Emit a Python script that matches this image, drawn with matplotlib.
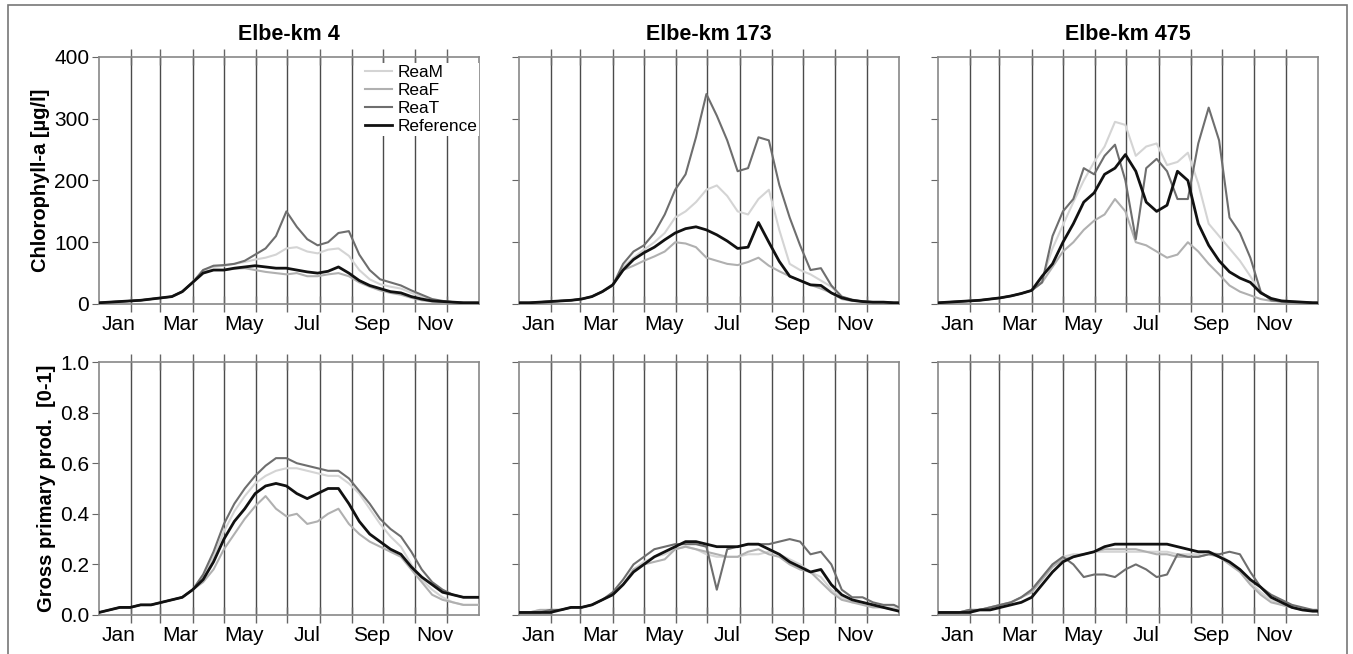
import matplotlib
matplotlib.use("Agg")
import matplotlib.pyplot as plt
from matplotlib.patches import Rectangle

plt.rcParams['font.family'] = ['Liberation Sans', 'DejaVu Sans']

days = [0, 10, 20, 30, 40, 50, 60, 70, 80, 90, 100, 110, 120, 130, 140, 150, 160, 170, 180,
        190, 200, 210, 220, 230, 240, 250, 260, 270, 280, 290, 300, 310, 320, 330, 340, 350, 360, 365]

month_starts = [0, 31, 59, 90, 120, 151, 181, 212, 243, 273, 304, 334, 365]
month_labels = ["Jan", "Mar", "May", "Jul", "Sep", "Nov"]

titles = ["Elbe-km 4", "Elbe-km 173", "Elbe-km 475"]
series_names = ["ReaM", "ReaF", "ReaT", "Reference"]

# Chlorophyll-a [ug/l]
chl_km4_ream = [2, 3, 4, 5, 6, 8, 10, 12, 20, 35, 55, 60, 62, 65, 68, 72, 75, 80, 90, 92, 85, 82, 88, 90, 78, 55, 40, 32, 28, 25, 18, 12, 6, 4, 3, 2, 2, 2]
chl_km4_reaf = [2, 3, 4, 5, 6, 8, 10, 12, 20, 35, 52, 55, 55, 57, 58, 55, 52, 50, 48, 50, 45, 45, 48, 50, 45, 35, 28, 22, 18, 15, 10, 6, 4, 3, 2, 2, 2, 2]
chl_km4_reat = [2, 3, 4, 5, 6, 8, 10, 12, 20, 35, 55, 62, 63, 65, 70, 80, 90, 110, 150, 125, 105, 95, 100, 115, 118, 80, 55, 40, 35, 30, 22, 15, 8, 5, 3, 2, 2, 2]
chl_km4_ref = [2, 3, 4, 5, 6, 8, 10, 12, 20, 35, 50, 55, 55, 58, 60, 62, 60, 58, 58, 55, 52, 50, 53, 60, 50, 38, 30, 25, 20, 18, 12, 8, 5, 4, 3, 2, 2, 2]

chl_km173_ream = [2, 2, 3, 4, 5, 6, 8, 12, 20, 30, 60, 75, 88, 100, 115, 140, 150, 165, 185, 192, 175, 150, 145, 170, 185, 120, 65, 55, 48, 38, 28, 12, 6, 4, 3, 3, 2, 2]
chl_km173_reaf = [2, 2, 3, 4, 5, 6, 8, 12, 20, 30, 55, 62, 70, 77, 85, 100, 98, 92, 75, 70, 65, 63, 68, 75, 62, 53, 45, 38, 31, 25, 18, 8, 5, 4, 3, 3, 2, 2]
chl_km173_reat = [2, 2, 3, 4, 5, 6, 8, 12, 20, 30, 65, 85, 95, 115, 145, 185, 210, 270, 340, 305, 265, 215, 220, 270, 265, 193, 140, 95, 55, 58, 30, 12, 7, 4, 3, 3, 2, 2]
chl_km173_ref = [2, 2, 3, 4, 5, 6, 8, 12, 20, 31, 55, 72, 83, 92, 104, 115, 122, 125, 120, 112, 102, 90, 92, 132, 100, 69, 45, 38, 31, 30, 18, 10, 6, 4, 3, 3, 2, 2]

chl_km475_ream = [2, 3, 4, 5, 6, 8, 10, 13, 17, 22, 40, 90, 128, 165, 200, 230, 255, 295, 290, 240, 255, 260, 225, 230, 245, 195, 130, 110, 90, 70, 45, 18, 8, 5, 4, 3, 2, 2]
chl_km475_reaf = [2, 3, 4, 5, 6, 8, 10, 13, 17, 22, 35, 60, 85, 100, 120, 135, 145, 170, 150, 100, 95, 85, 75, 80, 100, 85, 65, 48, 30, 20, 14, 8, 5, 4, 3, 3, 2, 2]
chl_km475_reat = [2, 3, 4, 5, 6, 8, 10, 13, 17, 22, 35, 110, 150, 170, 220, 210, 240, 258, 200, 105, 220, 235, 215, 170, 170, 260, 318, 265, 140, 115, 75, 20, 6, 4, 3, 3, 2, 2]
chl_km475_ref = [2, 3, 4, 5, 6, 8, 10, 13, 17, 22, 45, 65, 100, 130, 165, 180, 210, 220, 242, 215, 165, 150, 160, 215, 200, 130, 95, 70, 52, 42, 35, 18, 9, 5, 4, 3, 2, 2]

# Gross primary production [0-1]
gpp_km4_ream = [0.01, 0.02, 0.03, 0.03, 0.04, 0.04, 0.05, 0.06, 0.07, 0.10, 0.15, 0.23, 0.33, 0.41, 0.47, 0.52, 0.55, 0.57, 0.58, 0.58, 0.57, 0.56, 0.55, 0.55, 0.52, 0.48, 0.42, 0.36, 0.31, 0.27, 0.20, 0.14, 0.10, 0.07, 0.05, 0.04, 0.04, 0.04]
gpp_km4_reaf = [0.01, 0.02, 0.03, 0.03, 0.04, 0.04, 0.05, 0.06, 0.07, 0.10, 0.13, 0.18, 0.26, 0.32, 0.38, 0.43, 0.47, 0.42, 0.39, 0.40, 0.36, 0.37, 0.40, 0.42, 0.36, 0.32, 0.29, 0.27, 0.25, 0.23, 0.18, 0.13, 0.08, 0.06, 0.05, 0.04, 0.04, 0.04]
gpp_km4_reat = [0.01, 0.02, 0.03, 0.03, 0.04, 0.04, 0.05, 0.06, 0.07, 0.10, 0.16, 0.25, 0.36, 0.44, 0.50, 0.55, 0.59, 0.62, 0.62, 0.60, 0.59, 0.58, 0.57, 0.57, 0.54, 0.49, 0.44, 0.38, 0.34, 0.31, 0.25, 0.18, 0.13, 0.10, 0.08, 0.07, 0.07, 0.07]
gpp_km4_ref = [0.01, 0.02, 0.03, 0.03, 0.04, 0.04, 0.05, 0.06, 0.07, 0.10, 0.14, 0.21, 0.30, 0.37, 0.42, 0.48, 0.51, 0.52, 0.51, 0.48, 0.46, 0.48, 0.50, 0.50, 0.44, 0.37, 0.32, 0.29, 0.26, 0.24, 0.19, 0.15, 0.12, 0.09, 0.08, 0.07, 0.07, 0.07]

gpp_km173_ream = [0.01, 0.01, 0.02, 0.02, 0.02, 0.03, 0.03, 0.04, 0.06, 0.08, 0.12, 0.18, 0.21, 0.23, 0.24, 0.26, 0.27, 0.26, 0.24, 0.23, 0.23, 0.23, 0.24, 0.24, 0.25, 0.24, 0.22, 0.20, 0.17, 0.15, 0.10, 0.07, 0.05, 0.05, 0.04, 0.03, 0.03, 0.02]
gpp_km173_reaf = [0.01, 0.01, 0.02, 0.02, 0.02, 0.03, 0.03, 0.04, 0.06, 0.08, 0.12, 0.18, 0.20, 0.21, 0.22, 0.26, 0.27, 0.26, 0.25, 0.24, 0.23, 0.23, 0.25, 0.26, 0.24, 0.23, 0.20, 0.18, 0.17, 0.13, 0.09, 0.06, 0.05, 0.04, 0.03, 0.03, 0.02, 0.02]
gpp_km173_reat = [0.01, 0.01, 0.01, 0.02, 0.02, 0.03, 0.03, 0.04, 0.06, 0.09, 0.14, 0.20, 0.23, 0.26, 0.27, 0.28, 0.28, 0.28, 0.27, 0.10, 0.26, 0.27, 0.28, 0.28, 0.28, 0.29, 0.30, 0.29, 0.24, 0.25, 0.20, 0.10, 0.07, 0.07, 0.05, 0.04, 0.04, 0.03]
gpp_km173_ref = [0.01, 0.01, 0.01, 0.01, 0.02, 0.03, 0.03, 0.04, 0.06, 0.08, 0.12, 0.17, 0.20, 0.23, 0.25, 0.27, 0.29, 0.29, 0.28, 0.27, 0.27, 0.27, 0.28, 0.28, 0.26, 0.24, 0.21, 0.19, 0.17, 0.18, 0.12, 0.08, 0.06, 0.05, 0.04, 0.03, 0.02, 0.015]

gpp_km475_ream = [0.01, 0.01, 0.01, 0.02, 0.02, 0.03, 0.04, 0.05, 0.07, 0.10, 0.15, 0.20, 0.23, 0.24, 0.24, 0.25, 0.25, 0.25, 0.25, 0.25, 0.25, 0.25, 0.25, 0.24, 0.24, 0.24, 0.25, 0.24, 0.21, 0.18, 0.13, 0.09, 0.06, 0.04, 0.03, 0.02, 0.02, 0.02]
gpp_km475_reaf = [0.01, 0.01, 0.01, 0.02, 0.02, 0.03, 0.04, 0.05, 0.07, 0.09, 0.14, 0.19, 0.22, 0.23, 0.24, 0.25, 0.26, 0.26, 0.26, 0.26, 0.25, 0.24, 0.24, 0.23, 0.23, 0.23, 0.24, 0.23, 0.20, 0.17, 0.12, 0.08, 0.05, 0.04, 0.03, 0.02, 0.02, 0.02]
gpp_km475_reat = [0.01, 0.01, 0.01, 0.02, 0.02, 0.03, 0.04, 0.05, 0.07, 0.10, 0.15, 0.20, 0.23, 0.20, 0.15, 0.16, 0.16, 0.15, 0.18, 0.20, 0.18, 0.15, 0.16, 0.24, 0.23, 0.23, 0.24, 0.24, 0.25, 0.24, 0.17, 0.11, 0.08, 0.06, 0.04, 0.03, 0.02, 0.02]
gpp_km475_ref = [0.01, 0.01, 0.01, 0.01, 0.02, 0.02, 0.03, 0.04, 0.05, 0.07, 0.12, 0.17, 0.21, 0.23, 0.24, 0.25, 0.27, 0.28, 0.28, 0.28, 0.28, 0.28, 0.28, 0.27, 0.26, 0.25, 0.25, 0.23, 0.21, 0.18, 0.14, 0.11, 0.07, 0.05, 0.03, 0.02, 0.015, 0.015]

chl = [[chl_km4_ream, chl_km4_reaf, chl_km4_reat, chl_km4_ref],
       [chl_km173_ream, chl_km173_reaf, chl_km173_reat, chl_km173_ref],
       [chl_km475_ream, chl_km475_reaf, chl_km475_reat, chl_km475_ref]]
gpp = [[gpp_km4_ream, gpp_km4_reaf, gpp_km4_reat, gpp_km4_ref],
       [gpp_km173_ream, gpp_km173_reaf, gpp_km173_reat, gpp_km173_ref],
       [gpp_km475_ream, gpp_km475_reaf, gpp_km475_reat, gpp_km475_ref]]

colors = ["#d4d4d4", "#b0b0b0", "#6e6e6e", "#111111"]
widths = [1.5, 1.5, 1.5, 2.0]

fig = plt.figure(figsize=(13.53, 6.54), dpi=100)
W, H = 1353.0, 654.0
lefts = [99, 519, 938]
axw = 380

# gray frame round the whole figure
fig.patches.append(Rectangle((8 / W, -0.02), 1 - 14 / W, 1 - 5 / H + 0.02, transform=fig.transFigure,
                             fill=False, edgecolor="#777777", linewidth=1.2))


def style(ax, yticks, ylim, show_ylabels):
    ax.set_xlim(0, 365)
    ax.set_ylim(*ylim)
    for d in month_starts[1:-1]:
        ax.axvline(d, color="#4a4a4a", linewidth=1.0, zorder=1)
    ax.set_xticks(month_starts[1:-1])
    ax.set_xticklabels([])
    ax.set_xticks([month_starts[i] + 19 for i in range(0, 12, 2)], minor=True)
    ax.set_xticklabels(month_labels, minor=True)
    ax.tick_params(axis="x", which="major", direction="inout", length=12, top=True,
                   color="#666666", width=1.0)
    ax.tick_params(axis="x", which="minor", length=0, labelsize=15, pad=8)
    ax.set_yticks(yticks)
    ax.tick_params(axis="y", direction="out", length=5, color="#666666", labelsize=15,
                   labelleft=show_ylabels, pad=2)
    for s in ax.spines.values():
        s.set_color("#888888")
        s.set_linewidth(1.2)


for col in range(3):
    ax = fig.add_axes([lefts[col] / W, 1 - 304 / H, axw / W, 247 / H])
    for k in range(4):
        ax.plot(days, chl[col][k], color=colors[k], linewidth=widths[k], label=series_names[k], zorder=3)
    style(ax, [0, 100, 200, 300, 400], (0, 400), col == 0)
    ax.set_title(titles[col], fontsize=15.5, fontweight="bold", pad=12)
    if col == 0:
        ax.set_ylabel("Chlorophyll-a [µg/l]", fontsize=14.5, fontweight="bold", labelpad=3)
        leg = ax.legend(loc="upper right", bbox_to_anchor=(1.0, 0.975), frameon=True,
                        fontsize=12.4, handlelength=1.6, handletextpad=0.3, borderaxespad=0.0,
                        labelspacing=0.18, borderpad=0.1, fancybox=False)
        leg.get_frame().set_edgecolor("none")
        leg.get_frame().set_facecolor("white")
        leg.get_frame().set_alpha(1.0)
        leg.set_zorder(5)

    ax2 = fig.add_axes([lefts[col] / W, 1 - 615 / H, axw / W, 253 / H])
    for k in range(4):
        ax2.plot(days, gpp[col][k], color=colors[k], linewidth=widths[k], zorder=3)
    style(ax2, [0.0, 0.2, 0.4, 0.6, 0.8, 1.0], (0, 1.0), col == 0)
    if col == 0:
        ax2.set_yticklabels(["0.0", "0.2", "0.4", "0.6", "0.8", "1.0"])
        ax2.set_ylabel("Gross primary prod.  [0-1]", fontsize=14.5, fontweight="bold", labelpad=3)

fig.savefig("out.png", dpi=100)
